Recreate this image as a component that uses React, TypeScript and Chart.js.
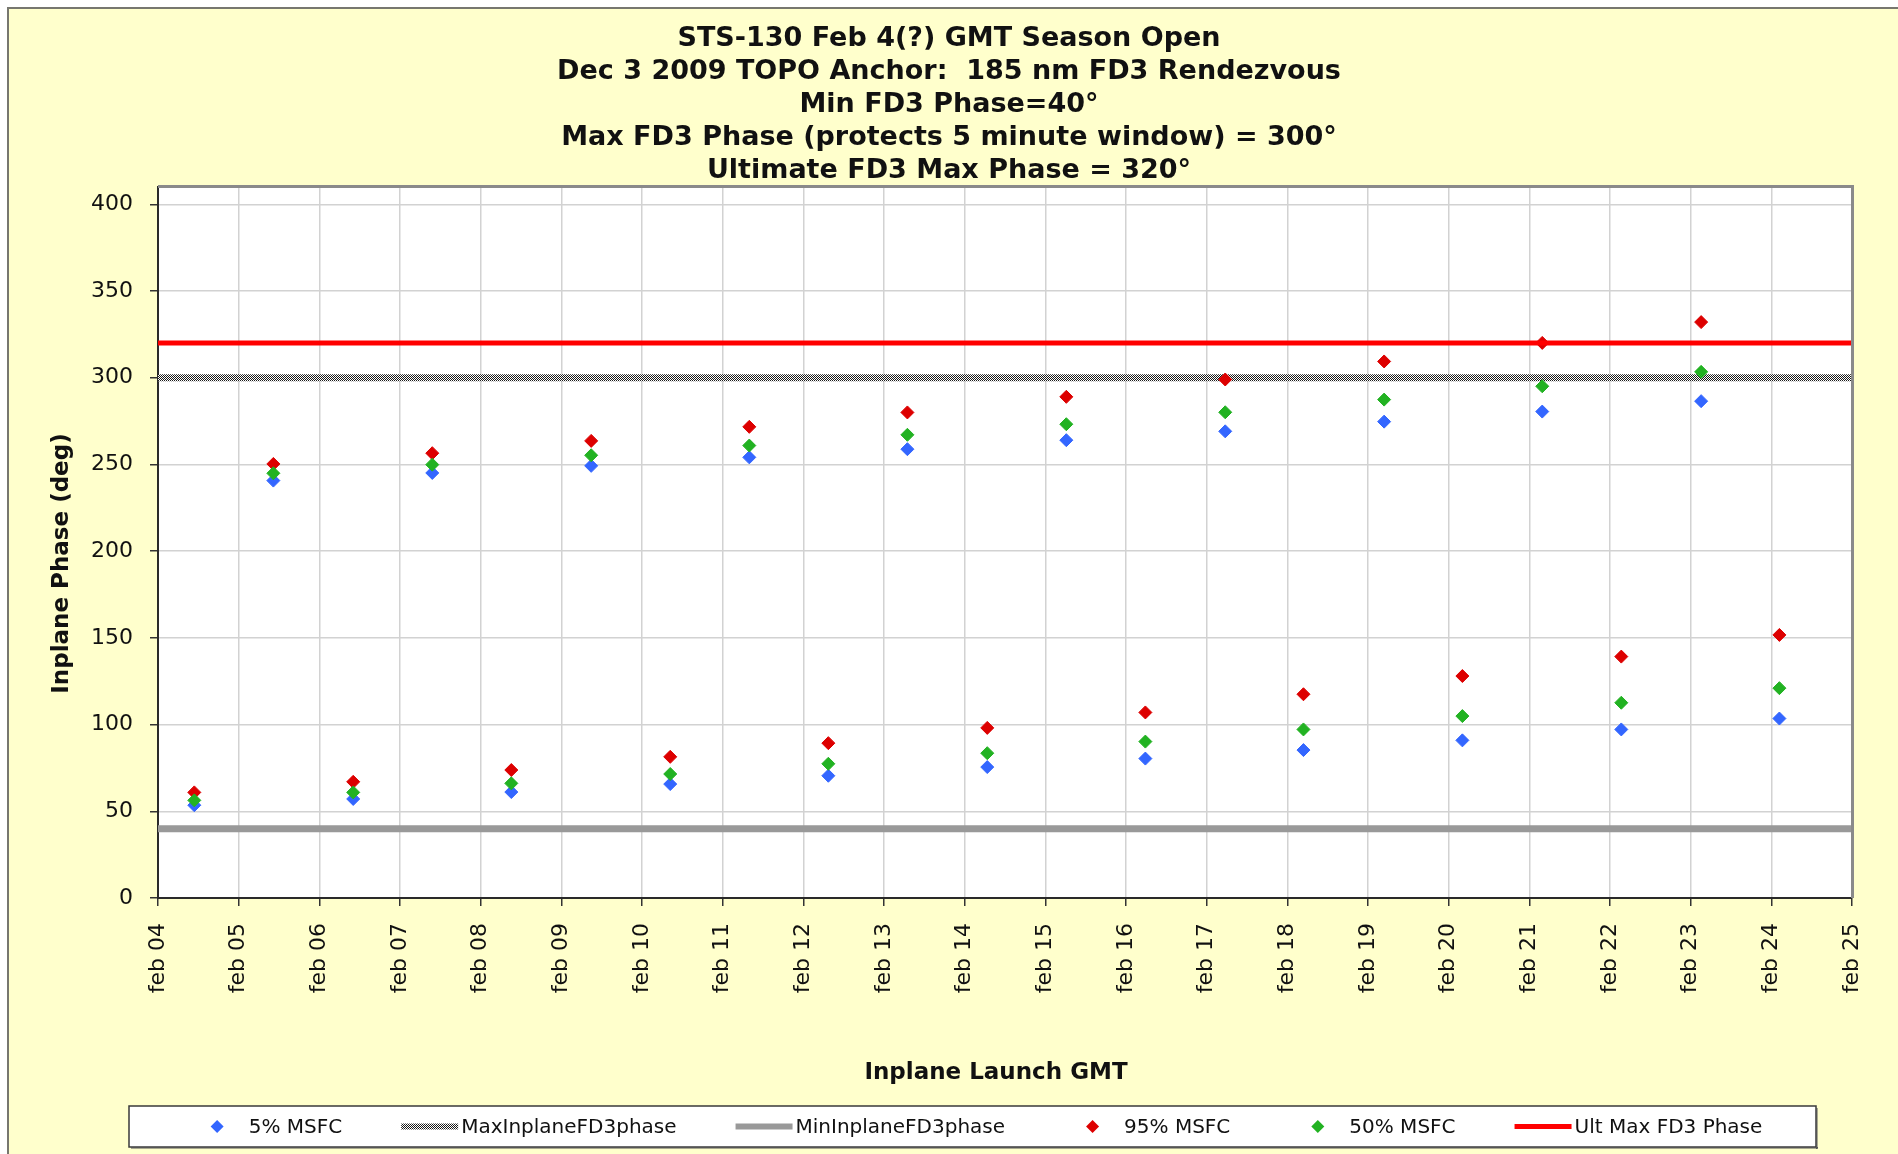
import React, { useEffect, useRef } from 'react';
import { Chart, registerables } from 'chart.js';

Chart.register(...registerables);

// ---------- data ----------
const titleLines = [
  'STS-130 Feb 4(?) GMT Season Open',
  'Dec 3 2009 TOPO Anchor:  185 nm FD3 Rendezvous',
  'Min FD3 Phase=40°',
  'Max FD3 Phase (protects 5 minute window) = 300°',
  'Ultimate FD3 Max Phase = 320°',
];

const xAxisTitle = 'Inplane Launch GMT';
const yAxisTitle = 'Inplane Phase (deg)';

const tickLabels = [
  'feb 04', 'feb 05', 'feb 06', 'feb 07', 'feb 08', 'feb 09', 'feb 10', 'feb 11',
  'feb 12', 'feb 13', 'feb 14', 'feb 15', 'feb 16', 'feb 17', 'feb 18', 'feb 19',
  'feb 20', 'feb 21', 'feb 22', 'feb 23', 'feb 24', 'feb 25',
];

const yTickValues = [0, 50, 100, 150, 200, 250, 300, 350, 400];

// launch opportunity time, in days after feb 04 00:00 GMT
const launchDays = [
  0.45, 1.43, 2.42, 3.40, 4.38, 5.37, 6.35, 7.33, 8.31, 9.29, 10.28,
  11.26, 12.24, 13.23, 14.20, 15.20, 16.17, 17.16, 18.14, 19.13, 20.10,
];

const msfc5 = [
  53.5, 240.7, 57.1, 245.1, 61.1, 249.2, 65.7, 254.1, 70.5, 258.8, 75.5,
  264.0, 80.4, 269.1, 85.3, 274.7, 90.9, 280.5, 97.2, 286.5, 103.5,
];
const msfc95 = [
  60.9, 250.3, 67.0, 256.5, 73.8, 263.6, 81.4, 271.7, 89.3, 280.0, 98.1,
  289.0, 107.0, 299.0, 117.5, 309.4, 128.0, 320.1, 139.2, 332.1, 151.7,
];
const msfc50 = [
  56.3, 244.9, 60.9, 249.9, 66.1, 255.3, 71.5, 260.9, 77.4, 267.1, 83.5,
  273.2, 90.2, 280.1, 97.2, 287.4, 104.9, 295.1, 112.6, 303.4, 121.0,
];

const maxInplaneFD3phase = 300;
const minInplaneFD3phase = 40;
const ultMaxFD3Phase = 320;

const yMin = 0;
const yMax = 410;

const FONT = "'DejaVu Sans', Verdana, sans-serif";
const TEXT = '#111111';

function makeHatch(): CanvasPattern | string {
  const c = document.createElement('canvas');
  c.width = 2;
  c.height = 2;
  const g = c.getContext('2d');
  if (!g) return '#888';
  g.fillStyle = '#ffffff';
  g.fillRect(0, 0, 2, 2);
  g.fillStyle = '#1a1a1a';
  g.fillRect(0, 0, 1, 1);
  g.fillRect(1, 1, 1, 1);
  return g.createPattern(c, 'repeat') || '#888';
}

const framePlugin = {
  id: 'frame',
  beforeDraw(chart: any) {
    const { ctx, width, height, chartArea: ca } = chart;
    ctx.save();
    ctx.fillStyle = '#ffffff';
    ctx.fillRect(0, 0, width, height);
    ctx.fillStyle = '#FFFFCC';
    ctx.fillRect(9, 9, width, height);
    ctx.fillStyle = '#77776f';
    ctx.fillRect(7, 7, width, 2);
    ctx.fillRect(7, 7, 2, height);
    ctx.fillStyle = '#ffffff';
    ctx.fillRect(ca.left, ca.top, ca.right - ca.left, ca.bottom - ca.top);
    ctx.restore();
  },
  afterDraw(chart: any) {
    const { ctx, chartArea: ca } = chart;
    ctx.save();
    // top and right border of the plot area
    ctx.fillStyle = '#8a8a8a';
    ctx.fillRect(ca.left, ca.top - 2, ca.right - ca.left + 2, 3);
    ctx.fillRect(ca.right - 1, ca.top - 2, 3, ca.bottom - ca.top + 2);
    // axis titles
    ctx.fillStyle = TEXT;
    ctx.font = `bold 23px ${FONT}`;
    ctx.textAlign = 'center';
    ctx.textBaseline = 'middle';
    ctx.fillText(xAxisTitle, (ca.left + ca.right) / 2 - 9, ca.bottom + 175);
    ctx.translate(ca.left - 96, (ca.top + ca.bottom) / 2 + 21);
    ctx.rotate(-Math.PI / 2);
    ctx.fillText(yAxisTitle, 0, 0);
    ctx.restore();
  },
};

const legendPlugin = {
  id: 'boxLegend',
  afterDraw(chart: any) {
    const { ctx, width } = chart;
    const boxL = 129;
    const boxR = width - 82;
    const boxT = 1106;
    const boxH = 41;
    ctx.save();
    ctx.fillStyle = '#ffffff';
    ctx.fillRect(boxL, boxT, boxR - boxL, boxH);
    ctx.strokeStyle = '#3a3a3a';
    ctx.lineWidth = 1.5;
    ctx.strokeRect(boxL, boxT, boxR - boxL, boxH);
    ctx.fillStyle = '#555';
    ctx.fillRect(boxL + 2, boxT + boxH, boxR - boxL, 1.5);
    ctx.fillRect(boxR, boxT + 2, 1.5, boxH);

    ctx.font = `20px ${FONT}`;
    const datasets = chart.data.datasets;
    const marker = 57;
    const gapText = 3;
    const gapItem = 59;
    const widths = datasets.map((ds: any) => marker + gapText + ctx.measureText(ds.label).width);
    const total = widths.reduce((a: number, b: number) => a + b, 0) + gapItem * (datasets.length - 1);
    let x = (boxL + boxR) / 2 - total / 2 + 3;
    const cy = boxT + boxH / 2;
    datasets.forEach((ds: any, i: number) => {
      if (ds.showLine) {
        ctx.strokeStyle = ds.borderColor;
        ctx.lineWidth = Math.min(ds.borderWidth, 6);
        ctx.lineCap = 'butt';
        ctx.beginPath();
        ctx.moveTo(x, cy);
        ctx.lineTo(x + marker, cy);
        ctx.stroke();
      } else {
        const cx = x + marker / 2;
        const r = 6.5;
        ctx.fillStyle = ds.backgroundColor;
        ctx.beginPath();
        ctx.moveTo(cx - r, cy);
        ctx.lineTo(cx, cy - r);
        ctx.lineTo(cx + r, cy);
        ctx.lineTo(cx, cy + r);
        ctx.closePath();
        ctx.fill();
      }
      ctx.fillStyle = TEXT;
      ctx.textAlign = 'left';
      ctx.textBaseline = 'middle';
      ctx.fillText(ds.label, x + marker + gapText, cy + 1);
      x += widths[i] + gapItem;
    });
    ctx.restore();
  },
};

export default function App() {
  const ref = useRef<HTMLCanvasElement>(null);

  useEffect(() => {
    const canvas = ref.current;
    if (!canvas) return;
    const hatch = makeHatch();
    const xStart = 0;
    const xEnd = tickLabels.length - 1;
    const pts = (ys: number[]) => launchDays.map((x, i) => ({ x, y: ys[i] }));
    const flat = (v: number) => [{ x: xStart, y: v }, { x: xEnd, y: v }];

    const markerDs = (label: string, ys: number[], color: string, order: number) => ({
      label,
      data: pts(ys),
      showLine: false,
      pointStyle: 'rectRot',
      pointRadius: 6.5,
      pointBorderWidth: 1,
      backgroundColor: color,
      borderColor: color,
      order,
    });
    const lineDs = (label: string, v: number, color: any, w: number, order: number) => ({
      label,
      data: flat(v),
      showLine: true,
      pointRadius: 0,
      borderColor: color,
      backgroundColor: color,
      borderWidth: w,
      borderCapStyle: 'butt',
      fill: false,
      order,
    });

    const chart = new Chart(canvas, {
      type: 'scatter',
      data: {
        datasets: [
          markerDs('5% MSFC', msfc5, '#3366FF', 5),
          lineDs('MaxInplaneFD3phase', maxInplaneFD3phase, hatch, 7, 4),
          lineDs('MinInplaneFD3phase', minInplaneFD3phase, '#999999', 7, 3),
          markerDs('95% MSFC', msfc95, '#DD0000', 2),
          markerDs('50% MSFC', msfc50, '#22B222', 1),
          lineDs('Ult Max FD3 Phase', ultMaxFD3Phase, '#FF0000', 5, 0),
        ] as any,
      },
      options: {
        responsive: false,
        animation: false,
        devicePixelRatio: 1,
        layout: { padding: { top: 0, left: 46, right: 46, bottom: 66 } },
        plugins: {
          legend: { display: false },
          tooltip: { enabled: false },
          title: {
            display: true,
            text: titleLines,
            color: TEXT,
            font: { family: FONT, size: 27, weight: 'bold', lineHeight: '32.9px' } as any,
            padding: { top: 22.5, bottom: 0 },
          },
        },
        scales: {
          x: {
            type: 'linear',
            min: xStart,
            max: xEnd,
            offset: false,
            afterFit: (s: any) => { s.height = 190; },
            ticks: {
              stepSize: 1,
              autoSkip: false,
              minRotation: 90,
              maxRotation: 90,
              padding: 17,
              color: TEXT,
              font: { family: FONT, size: 22 },
              callback: (v: any) => tickLabels[Math.round(Number(v))] ?? '',
            },
            grid: { color: '#d2d2d2', lineWidth: 1.5, tickColor: '#333', tickLength: 8 },
            border: { color: '#2a2a2a', width: 2 },
            title: { display: false },
          },
          y: {
            type: 'linear',
            min: yMin,
            max: yMax,
            afterFit: (s: any) => { s.width = 112; },
            afterBuildTicks: (s: any) => {
              s.ticks = yTickValues.map((value) => ({ value }));
            },
            ticks: {
              padding: 17,
              color: TEXT,
              font: { family: FONT, size: 22 },
            },
            grid: { color: '#d2d2d2', lineWidth: 1.5, tickColor: '#333', tickLength: 8 },
            border: { color: '#2a2a2a', width: 2 },
            title: { display: false },
          },
        },
      },
      plugins: [framePlugin, legendPlugin],
    } as any);

    return () => chart.destroy();
  }, []);

  return (
    <canvas
      ref={ref}
      width={1898}
      height={1154}
      style={{ position: 'fixed', left: 0, top: 0, width: 1898, height: 1154 }}
    />
  );
}
